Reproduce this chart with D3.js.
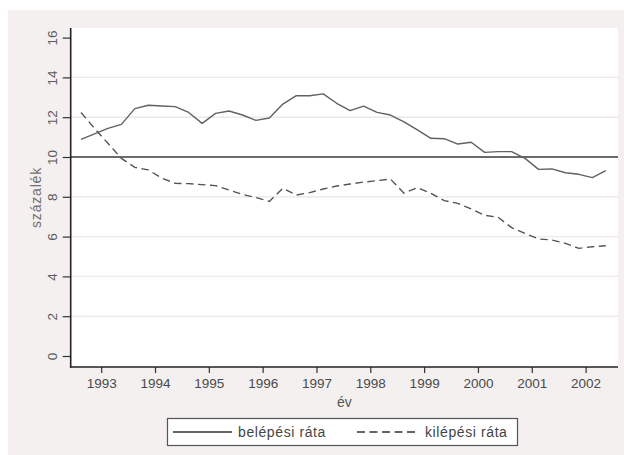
<!DOCTYPE html>
<html>
<head>
<meta charset="utf-8">
<script src="https://cdn.jsdelivr.net/npm/d3@7/dist/d3.min.js"></script>
<style>
  html, body { margin: 0; padding: 0; background: #ffffff; }
  svg { display: block; }
  text { font-family: "Liberation Sans", Arial, sans-serif; }
</style>
</head>
<body>
<svg id="chart" width="624" height="455"></svg>
<script>
// Quarterly periods (plotted at the middle of each quarter)
const periods = [
  "1992Q3", "1992Q4",
  "1993Q1", "1993Q2", "1993Q3", "1993Q4",
  "1994Q1", "1994Q2", "1994Q3", "1994Q4",
  "1995Q1", "1995Q2", "1995Q3", "1995Q4",
  "1996Q1", "1996Q2", "1996Q3", "1996Q4",
  "1997Q1", "1997Q2", "1997Q3", "1997Q4",
  "1998Q1", "1998Q2", "1998Q3", "1998Q4",
  "1999Q1", "1999Q2", "1999Q3", "1999Q4",
  "2000Q1", "2000Q2", "2000Q3", "2000Q4",
  "2001Q1", "2001Q2", "2001Q3", "2001Q4",
  "2002Q1", "2002Q2"
];

// belépési ráta (entry rate, %)
const entryRate = [
  10.89, 11.16, 11.44, 11.64, 12.43, 12.60, 12.56, 12.53, 12.24, 11.69,
  12.19, 12.31, 12.11, 11.84, 11.96, 12.66, 13.08, 13.08, 13.17, 12.70,
  12.33, 12.56, 12.24, 12.11, 11.77, 11.36, 10.94, 10.92, 10.65, 10.74,
  10.23, 10.27, 10.27, 9.93, 9.38, 9.40, 9.21, 9.13, 8.96, 9.31
];

// kilépési ráta (exit rate, %)
const exitRate = [
  12.24, 11.44, 10.69, 9.93, 9.48, 9.35, 8.94, 8.68, 8.66, 8.61,
  8.56, 8.34, 8.12, 7.96, 7.77, 8.43, 8.09, 8.21, 8.39, 8.54,
  8.64, 8.74, 8.81, 8.89, 8.18, 8.46, 8.18, 7.81, 7.67, 7.39,
  7.07, 6.97, 6.45, 6.16, 5.88, 5.83, 5.66, 5.41, 5.49, 5.54
];

const yearTicks = [1993, 1994, 1995, 1996, 1997, 1998, 1999, 2000, 2001, 2002];
const yTicks = [0, 2, 4, 6, 8, 10, 12, 14, 16];
const gridValues = [2, 4, 6, 8, 12, 14];
const referenceLevel = 10;

const seriesNames = ["belépési ráta", "kilépési ráta"];
const xTitle = "év";
const yTitle = "százalék";

// period "YYYYQn" -> decimal year at mid-quarter
const toTime = p => +p.slice(0, 4) + (+p.slice(5) - 0.5) / 4;

const svg = d3.select("#chart");

// Layout
const panel = { x: 8, y: 10 };
const plot = { left: 70.7, right: 618, top: 28, bottom: 367 };

const x = d3.scaleLinear().domain([1993, 2002]).range([101.2, 585.6]);
const y = d3.scaleLinear().domain([0, 16]).range([356, 37.6]);

// Outer graph region
svg.append("rect")
  .attr("x", panel.x).attr("y", panel.y)
  .attr("width", 624 - panel.x).attr("height", 455 - panel.y)
  .attr("fill", "#f3f0ef");

// Plot region
svg.append("rect")
  .attr("x", plot.left).attr("y", plot.top)
  .attr("width", plot.right - plot.left).attr("height", plot.bottom - plot.top)
  .attr("fill", "#ffffff");

// Horizontal grid
svg.append("g").selectAll("line").data(gridValues).join("line")
  .attr("x1", plot.left).attr("x2", plot.right)
  .attr("y1", d => y(d)).attr("y2", d => y(d))
  .attr("stroke", "#efe8e8").attr("stroke-width", 1.4);

// Reference line at 10%
svg.append("line")
  .attr("x1", plot.left).attr("x2", plot.right)
  .attr("y1", y(referenceLevel)).attr("y2", y(referenceLevel))
  .attr("stroke", "#3a3a3a").attr("stroke-width", 1.3);

// Series
const data = periods.map((p, i) => ({ t: toTime(p), entry: entryRate[i], exit: exitRate[i] }));

const entryLine = d3.line().x(d => x(d.t)).y(d => y(d.entry));
const exitLine = d3.line().x(d => x(d.t)).y(d => y(d.exit));

svg.append("path").datum(data)
  .attr("d", entryLine)
  .attr("fill", "none")
  .attr("stroke", "#626060").attr("stroke-width", 1.4)
  .attr("stroke-linejoin", "round");

svg.append("path").datum(data)
  .attr("d", exitLine)
  .attr("fill", "none")
  .attr("stroke", "#555252").attr("stroke-width", 1.4)
  .attr("stroke-dasharray", "7.5,4.5");

// Y axis
const yAxis = svg.append("g")
  .attr("transform", `translate(${plot.left},0)`)
  .call(d3.axisLeft(y).tickValues(yTicks).tickSize(8).tickPadding(4).tickFormat(d3.format("d")));
yAxis.select(".domain").remove();
yAxis.selectAll(".tick line").attr("stroke", "#333").attr("stroke-width", 1.2);
yAxis.selectAll(".tick text")
  .attr("x", null).attr("dy", null)
  .attr("transform", "translate(-13.5,0) rotate(-90)")
  .attr("text-anchor", "middle")
  .attr("fill", "#5a5a5a")
  .attr("font-size", 13.5)
  .attr("font-family", "Liberation Sans, Arial, sans-serif");

// X axis
const xAxis = svg.append("g")
  .attr("transform", `translate(0,${plot.bottom})`)
  .call(d3.axisBottom(x).tickValues(yearTicks).tickSize(6).tickPadding(5).tickFormat(d3.format("d")));
xAxis.select(".domain").remove();
xAxis.selectAll(".tick line").attr("stroke", "#333").attr("stroke-width", 1.2);
xAxis.selectAll(".tick text")
  .attr("fill", "#4a4a4a")
  .attr("font-size", 13.5)
  .attr("font-family", "Liberation Sans, Arial, sans-serif");

// Axis lines
svg.append("line")
  .attr("x1", plot.left).attr("x2", plot.left)
  .attr("y1", plot.top).attr("y2", plot.bottom + 0.6)
  .attr("stroke", "#222").attr("stroke-width", 1.6);
svg.append("line")
  .attr("x1", plot.left - 0.8).attr("x2", plot.right)
  .attr("y1", plot.bottom).attr("y2", plot.bottom)
  .attr("stroke", "#222").attr("stroke-width", 1.6);

// Axis titles
svg.append("text")
  .attr("transform", `translate(41,${(plot.top + plot.bottom) / 2}) rotate(-90)`)
  .attr("text-anchor", "middle")
  .attr("fill", "#707070")
  .attr("font-size", 14)
  .attr("letter-spacing", 0.8)
  .text(yTitle);

svg.append("text")
  .attr("x", (plot.left + plot.right) / 2)
  .attr("y", 407)
  .attr("text-anchor", "middle")
  .attr("fill", "#555")
  .attr("font-size", 14)
  .text(xTitle);

// Legend
const legend = svg.append("g");
legend.append("rect")
  .attr("x", 167.5).attr("y", 418.5)
  .attr("width", 350).attr("height", 27)
  .attr("fill", "#ffffff")
  .attr("stroke", "#555").attr("stroke-width", 1.2);

const legendItems = [
  { name: seriesNames[0], x1: 173, x2: 232, tx: 238, dash: null },
  { name: seriesNames[1], x1: 357, x2: 418, tx: 425, dash: "8,4.5" }
];
legendItems.forEach(it => {
  legend.append("line")
    .attr("x1", it.x1).attr("x2", it.x2)
    .attr("y1", 432).attr("y2", 432)
    .attr("stroke", "#333").attr("stroke-width", 1.4)
    .attr("stroke-dasharray", it.dash);
  legend.append("text")
    .attr("x", it.tx).attr("y", 437)
    .attr("fill", "#444")
    .attr("font-size", 14)
    .attr("letter-spacing", 0.6)
    .text(it.name);
});
</script>
</body>
</html>
